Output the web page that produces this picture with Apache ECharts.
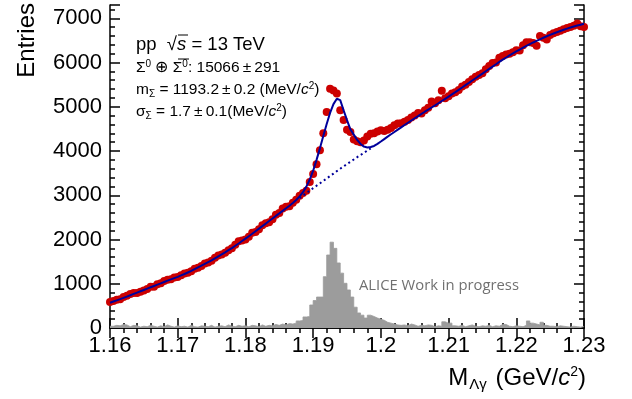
<!DOCTYPE html>
<html><head><meta charset="utf-8">
<script src="https://cdn.jsdelivr.net/npm/echarts@6/dist/echarts.min.js"></script>
<style>html,body{margin:0;padding:0;background:#fff}#c{width:632px;height:399px}</style>
</head><body><div id="c"></div>
<script>
// ---- data ----
const massLow = 1.16, massHigh = 1.23, binWidth = 0.0005;
const xTickLabels = ['1.16','1.17','1.18','1.19','1.2','1.21','1.22','1.23'];
const yTickLabels = ['0','1000','2000','3000','4000','5000','6000','7000'];
// measured entries (red points), one per 0.5 MeV from 1.160 to 1.230
const dataCounts = [
  590, 610, 640, 650, 700, 730, 770, 790, 790, 820,
  850, 880, 930, 930, 990, 1010, 1060, 1090, 1100, 1140,
  1150, 1190, 1230, 1250, 1280, 1340, 1360, 1400, 1460, 1480,
  1520, 1590, 1640, 1660, 1700, 1760, 1800, 1880, 1960, 1980,
  2000, 2060, 2150, 2170, 2230, 2320, 2370, 2390, 2460, 2560,
  2600, 2700, 2740, 2750, 2830, 2900, 2990, 3050, 3100, 3300,
  3480, 3700, 4020, 4400, 4880, 5410, 5370, 5300, 4920, 4700,
  4480, 4430, 4260, 4220, 4200, 4240, 4330, 4390, 4400, 4440,
  4470, 4450, 4480, 4520, 4580, 4620, 4630, 4660, 4700, 4760,
  4800, 4860, 4850, 4920, 4980, 5120, 5080, 5150, 5360, 5190,
  5240, 5300, 5330, 5380, 5460, 5500, 5560, 5620, 5680, 5720,
  5760, 5850, 5920, 5990, 6000, 6110, 6150, 6180, 6200, 6230,
  6280, 6270, 6390, 6460, 6460, 6440, 6380, 6600, 6560, 6520,
  6620, 6660, 6690, 6720, 6750, 6780, 6800, 6830, 6880, 6820,
  6800
];
// total fit (signal + background), same sampling
const fitValues = [
  570, 598, 625, 652, 680, 710, 740, 770, 800, 830,
  860, 890, 920, 950, 980, 1010, 1040, 1070, 1100, 1128,
  1155, 1188, 1220, 1255, 1290, 1330, 1370, 1410, 1450, 1490,
  1530, 1575, 1620, 1665, 1710, 1758, 1805, 1858, 1910, 1965,
  2020, 2075, 2130, 2188, 2245, 2303, 2360, 2418, 2475, 2533,
  2590, 2648, 2705, 2763, 2827, 2892, 2975, 3070, 3195, 3355,
  3555, 3800, 4060, 4340, 4610, 4860, 5060, 5180, 5150, 4920,
  4700, 4490, 4370, 4250, 4160, 4100, 4080, 4090, 4115, 4163,
  4215, 4270, 4325, 4378, 4430, 4483, 4535, 4587, 4638, 4689,
  4740, 4790, 4840, 4888, 4935, 4983, 5030, 5080, 5130, 5180,
  5230, 5280, 5330, 5383, 5435, 5488, 5540, 5593, 5645, 5698,
  5750, 5803, 5855, 5908, 5960, 6013, 6065, 6113, 6160, 6205,
  6250, 6293, 6335, 6375, 6415, 6453, 6490, 6525, 6560, 6593,
  6625, 6655, 6685, 6713, 6740, 6765, 6790, 6813, 6835, 6855,
  6875
];
// background component under the peak (dotted), from sample index 56
const bgStartIndex = 56;
const bgValues = [2935, 2993, 3050, 3105, 3160, 3215, 3270, 3325, 3380, 3435,
  3490, 3545, 3600, 3652, 3705, 3756, 3808, 3860, 3910, 3960, 4010, 4060];
// grey MC histogram, 0.5 MeV bins
const histCounts = [
  40, 60, 50, 80, 70, 30, 60, 50, 20, 40,
  30, 60, 40, 20, 50, 30, 70, 40, 20, 50,
  30, 40, 20, 60, 30, 20, 50, 40, 30, 60,
  20, 40, 50, 30, 70, 40, 30, 60, 40, 50,
  30, 60, 50, 30, 70, 40, 60, 50, 80, 60,
  90, 70, 100, 90, 110, 160, 170, 250, 260, 520,
  620, 700, 700, 1160, 1650, 1940, 1800, 1470, 1240, 1010,
  860, 700, 470, 340, 290, 225, 290, 260, 225, 200,
  175, 130, 110, 90, 70, 60, 70, 50, 90, 70,
  40, 60, 50, 70, 60, 30, 50, 40, 140, 110,
  110, 50, 40, 60, 30, 50, 70, 40, 30, 50,
  40, 60, 30, 50, 40, 80, 80, 40, 30, 50,
  40, 30, 60, 160, 110, 90, 70, 130, 60, 40,
  40, 30, 50, 40, 30, 20, 40, 30, 20, 30
];

// ---- build series data ----
const xAt = i => +(massLow + i * binWidth).toFixed(5);
const pts = dataCounts.map((v, i) => [xAt(i), v]);
const fit = fitValues.map((v, i) => [xAt(i), v]);
const bg = bgValues.map((v, i) => [xAt(bgStartIndex + i), v]);
const hist = histCounts.map((v, i) => [xAt(i), v]);
hist.push([massHigh, histCounts[histCounts.length - 1]]);

const FONT = 'Liberation Sans';
const black = '#000';
const lbl = { fontFamily: FONT, fontSize: 22, color: black };
const xBase = {
  type: 'value', min: massLow, max: massHigh, interval: 0.01,
  splitLine: { show: false },
  axisLine: { show: true, lineStyle: { color: black, width: 1.5 } },
  axisTick: { show: true, inside: true, length: 10, lineStyle: { color: black, width: 1.5 } },
  minorTick: { show: true, splitNumber: 5, length: 5, lineStyle: { color: black, width: 1.5 } },
};
function yAx(pos, major) {
  return {
    type: 'value', min: 0, max: 7300, interval: major ? 1000 : 200, position: pos,
    splitLine: { show: false },
    axisLine: { show: major, lineStyle: { color: black, width: 1.5 } },
    axisTick: { show: true, inside: true, length: major ? 10 : 5, lineStyle: { color: black, width: 1.5 } },
    axisLabel: (pos === 'left' && major) ? Object.assign({
      margin: 8,
      formatter: v => (v % 1000 === 0 ? yTickLabels[v / 1000] : '')
    }, lbl) : { show: false }
  };
}
const T = '\u2009';
const small = { fontFamily: FONT, fontSize: 10, fill: black };

const chart = echarts.init(document.getElementById('c'), null, { renderer: 'canvas' });
chart.setOption({
  animation: false,
  backgroundColor: '#fff',
  grid: { left: 110, right: 48, top: 5, bottom: 71 },
  xAxis: [
    Object.assign({}, xBase, { position: 'bottom', axisLabel: Object.assign({
      margin: 7, formatter: v => xTickLabels[Math.round((v - massLow) / 0.01)] || ''
    }, lbl) }),
    Object.assign({}, xBase, { position: 'top', axisLabel: { show: false } })
  ],
  yAxis: [yAx('left', true), yAx('left', false), yAx('right', true), yAx('right', false)],
  series: [
    { type: 'line', data: hist, step: 'end', symbol: 'none', z: 1,
      lineStyle: { width: 0.8, color: '#9c9c9c' }, areaStyle: { color: '#9c9c9c', opacity: 1 } },
    { type: 'scatter', data: pts, symbol: 'circle', symbolSize: 8, z: 2,
      itemStyle: { color: '#cc0000', opacity: 1 } },
    { type: 'line', data: bg, symbol: 'none', z: 3,
      lineStyle: { color: '#00009b', width: 2, type: [2, 3] } },
    { type: 'line', data: fit, symbol: 'none', z: 4,
      lineStyle: { color: '#00009b', width: 2 } }
  ],
  graphic: [
    { type: 'text', x: 136, y: 45, style: {
      text: '{n|pp  √}{i|s}{n| = 13 TeV}', textVerticalAlign: 'middle',
      rich: { n: { fontFamily: FONT, fontSize: 18.5, fill: black },
              i: { fontFamily: FONT, fontSize: 18.5, fontStyle: 'italic', fill: black } } } },
    { type: 'line', shape: { x1: 178, y1: 35, x2: 188, y2: 35 }, style: { stroke: black, lineWidth: 1 } },
    { type: 'text', x: 136, y: 68, style: {
      text: '{n|Σ}{sup|0}{n| ⊕ Σ}{sup|0}{n|: 15066' + T + '±' + T + '291}', textVerticalAlign: 'middle',
      rich: { n: { fontFamily: FONT, fontSize: 15.5, fill: black },
              sup: Object.assign({ padding: [0, 0, 8, 0] }, small) } } },
    { type: 'line', shape: { x1: 178, y1: 59, x2: 189, y2: 59 }, style: { stroke: black, lineWidth: 1 } },
    { type: 'text', x: 136, y: 90, style: {
      text: '{n|m}{sub|Σ}{n| = 1193.2' + T + '±' + T + '0.2 (MeV/}{i|c}{sup|2}{n|)}', textVerticalAlign: 'middle',
      rich: { n: { fontFamily: FONT, fontSize: 15.5, fill: black },
              i: { fontFamily: FONT, fontSize: 15.5, fontStyle: 'italic', fill: black },
              sub: Object.assign({ padding: [8, 0, 0, 0] }, small),
              sup: Object.assign({ padding: [0, 0, 8, 0] }, small) } } },
    { type: 'text', x: 136, y: 112, style: {
      text: '{n|σ}{sub|Σ}{n| = 1.7' + T + '±' + T + '0.1(MeV/}{i|c}{sup|2}{n|)}', textVerticalAlign: 'middle',
      rich: { n: { fontFamily: FONT, fontSize: 15.5, fill: black },
              i: { fontFamily: FONT, fontSize: 15.5, fontStyle: 'italic', fill: black },
              sub: Object.assign({ padding: [8, 0, 0, 0] }, small),
              sup: Object.assign({ padding: [0, 0, 8, 0] }, small) } } },
    { type: 'text', x: 359, y: 286, style: {
      text: 'ALICE Work in progress', textVerticalAlign: 'middle',
      fontFamily: 'Open Sans', fontSize: 14.8, fill: '#707070' } },
    { type: 'text', x: 27, y: 3, rotation: Math.PI / 2, style: {
      text: 'Entries', textAlign: 'right', textVerticalAlign: 'middle',
      fontFamily: FONT, fontSize: 24, fill: black } },
    { type: 'text', x: 586, y: 378, style: {
      text: '{n|M}{sub|Λγ}{n| (GeV/}{i|c}{sup|2}{n|)}', textAlign: 'right', textVerticalAlign: 'middle',
      rich: { n: { fontFamily: FONT, fontSize: 24, fill: black },
              i: { fontFamily: FONT, fontSize: 24, fontStyle: 'italic', fill: black },
              sub: { fontFamily: FONT, fontSize: 15, fill: black, padding: [13, 2, 0, 1] },
              sup: { fontFamily: FONT, fontSize: 14, fill: black, padding: [0, 0, 12, 0] } } } }
  ]
});
</script></body></html>
